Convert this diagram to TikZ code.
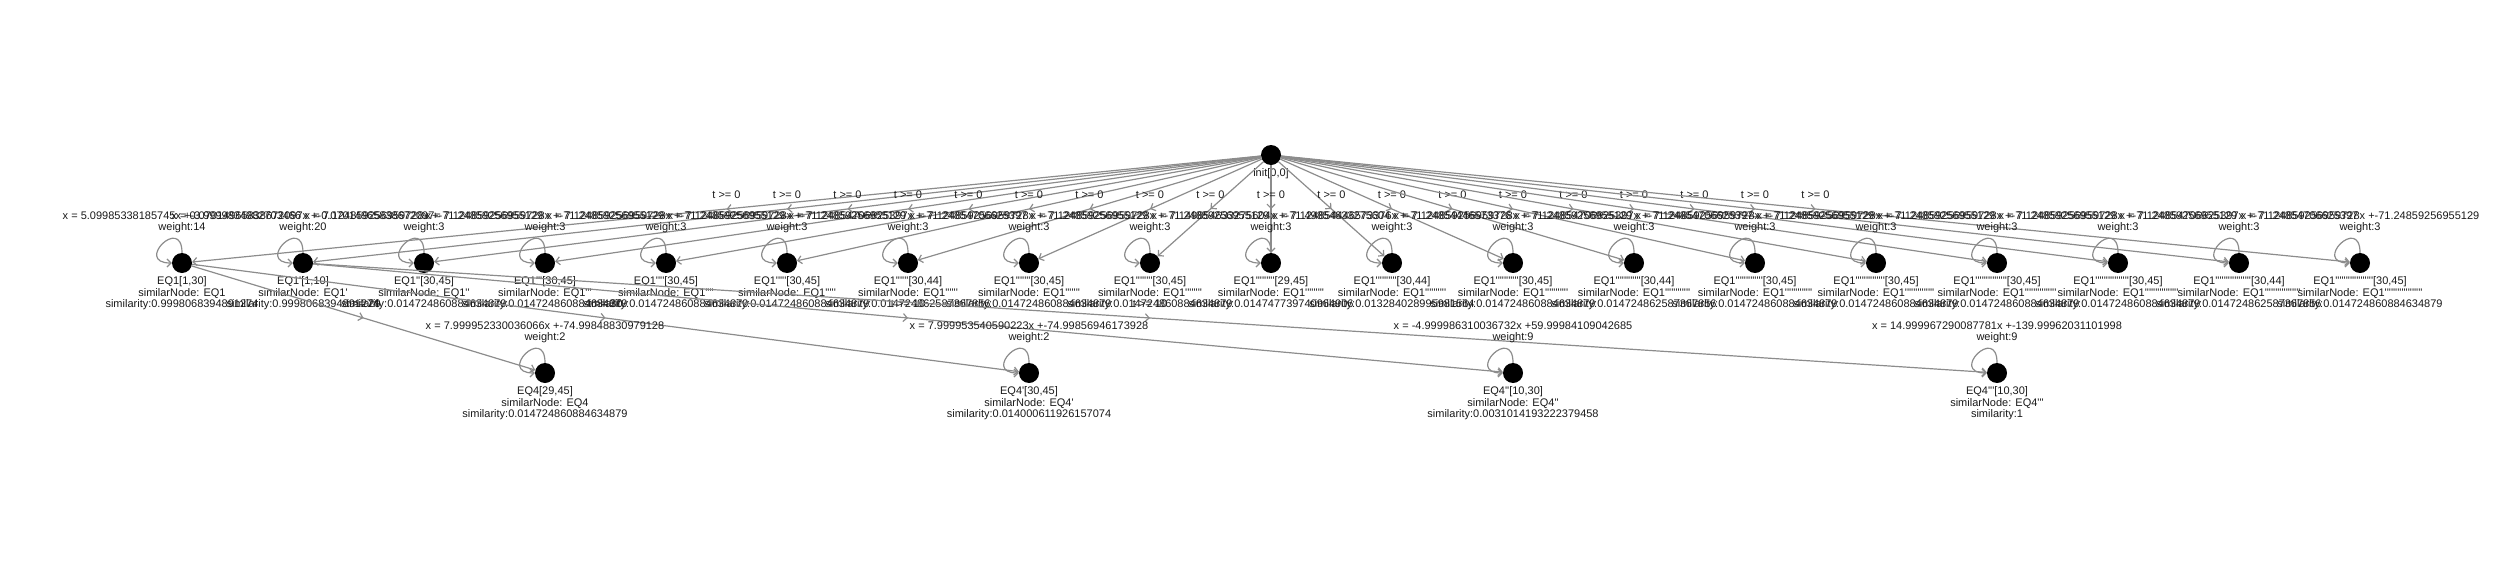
\documentclass[tikz,border=0pt]{standalone}
\usepackage{fontspec}
\newfontfamily\graphfont{Liberation Sans}
\colorlet{edgegray}{black!45}
\usetikzlibrary{positioning,arrows.meta,decorations.markings}
\tikzstyle{state}=[circle,fill=black,minimum size=20pt,inner sep=0pt]
\tikzstyle{info}=[align=center,inner sep=0pt,text=black!90,
  font=\graphfont\fontsize{11}{11.7}\selectfont]
\tikzstyle{trans}=[draw=edgegray,line width=1.2pt,
  -{Straight Barb[length=4pt,width=8pt]},postaction={decorate},
  decoration={markings,mark=at position .5 with
    {\arrow{Straight Barb[length=4pt,width=8pt]}}}]
\tikzstyle{selfloop}=[out=90,in=180,distance=38pt,draw=edgegray,
  line width=1.2pt,-{Straight Barb[length=4pt,width=8pt]}]
\tikzstyle{guard}=[info,yshift=14pt]
\tikzstyle{flow}=[info,pos=0,above=19pt]
\newcommand{\eqinfo}[3]{#1#2\\similarNode: #1\\similarity:#3}

\begin{document}
\begin{tikzpicture}[node distance=121pt, on grid, label distance=3pt]
  \useasboundingbox (0,0) rectangle (2500pt,-562pt);

  \node[state, label={[info]below:{init[0,0]}}] (root) at (1271pt,-155pt) {};

  \node[state, below=108pt of root, label={[info]below:{\eqinfo{EQ1'''''''''}{[29,45]}{0.014747739740964906}}}] (e9) {};
  \node[state, left=of e9, label={[info]below:{\eqinfo{EQ1''''''''}{[30,45]}{0.014724860884634879}}}] (e8) {};
  \node[state, left=of e8, label={[info]below:{\eqinfo{EQ1'''''''}{[30,45]}{0.014724860884634879}}}] (e7) {};
  \node[state, left=of e7, label={[info]below:{\eqinfo{EQ1''''''}{[30,44]}{0.014724862587367856}}}] (e6) {};
  \node[state, left=of e6, label={[info]below:{\eqinfo{EQ1'''''}{[30,45]}{0.014724860884634879}}}] (e5) {};
  \node[state, left=of e5, label={[info]below:{\eqinfo{EQ1''''}{[30,45]}{0.014724860884634879}}}] (e4) {};
  \node[state, left=of e4, label={[info]below:{\eqinfo{EQ1'''}{[30,45]}{0.014724860884634879}}}] (e3) {};
  \node[state, left=of e3, label={[info]below:{\eqinfo{EQ1''}{[30,45]}{0.014724860884634879}}}] (e2) {};
  \node[state, left=of e2, label={[info]below:{\eqinfo{EQ1'}{[1,10]}{0.9998068394891274}}}] (e1) {};
  \node[state, left=of e1, label={[info]below:{\eqinfo{EQ1}{[1,30]}{0.9998068394891274}}}] (e0) {};
  \node[state, right=of e9, label={[info]below:{\eqinfo{EQ1''''''''''}{[30,44]}{0.013284028995981564}}}] (e10) {};
  \node[state, right=of e10, label={[info]below:{\eqinfo{EQ1'''''''''''}{[30,45]}{0.014724860884634879}}}] (e11) {};
  \node[state, right=of e11, label={[info]below:{\eqinfo{EQ1''''''''''''}{[30,44]}{0.014724862587367856}}}] (e12) {};
  \node[state, right=of e12, label={[info]below:{\eqinfo{EQ1'''''''''''''}{[30,45]}{0.014724860884634879}}}] (e13) {};
  \node[state, right=of e13, label={[info]below:{\eqinfo{EQ1''''''''''''''}{[30,45]}{0.014724860884634879}}}] (e14) {};
  \node[state, right=of e14, label={[info]below:{\eqinfo{EQ1'''''''''''''''}{[30,45]}{0.014724860884634879}}}] (e15) {};
  \node[state, right=of e15, label={[info]below:{\eqinfo{EQ1''''''''''''''''}{[30,45]}{0.014724860884634879}}}] (e16) {};
  \node[state, right=of e16, label={[info]below:{\eqinfo{EQ1'''''''''''''''''}{[30,44]}{0.014724862587367856}}}] (e17) {};
  \node[state, right=of e17, label={[info]below:{\eqinfo{EQ1''''''''''''''''''}{[30,45]}{0.014724860884634879}}}] (e18) {};

  \node[state, below=110pt of e3, label={[info]below:{\eqinfo{EQ4}{[29,45]}{0.014724860884634879}}}] (f0) {};
  \node[state, below=110pt of e7, label={[info]below:{\eqinfo{EQ4'}{[30,45]}{0.014000611926157074}}}] (f1) {};
  \node[state, below=110pt of e11, label={[info]below:{\eqinfo{EQ4''}{[10,30]}{0.0031014193222379458}}}] (f2) {};
  \node[state, below=110pt of e15, label={[info]below:{\eqinfo{EQ4'''}{[10,30]}{1}}}] (f3) {};

  % init -> EQ1 variants
  \path (root) edge[trans] node[guard] {t >= 0} (e0)
               edge[trans] node[guard] {t >= 0} (e1)
               edge[trans] node[guard] {t >= 0} (e2)
               edge[trans] node[guard] {t >= 0} (e3)
               edge[trans] node[guard] {t >= 0} (e4)
               edge[trans] node[guard] {t >= 0} (e5)
               edge[trans] node[guard] {t >= 0} (e6)
               edge[trans] node[guard] {t >= 0} (e7)
               edge[trans] node[guard] {t >= 0} (e8)
               edge[trans] node[guard] {t >= 0} (e9)
               edge[trans] node[guard] {t >= 0} (e10)
               edge[trans] node[guard] {t >= 0} (e11)
               edge[trans] node[guard] {t >= 0} (e12)
               edge[trans] node[guard] {t >= 0} (e13)
               edge[trans] node[guard] {t >= 0} (e14)
               edge[trans] node[guard] {t >= 0} (e15)
               edge[trans] node[guard] {t >= 0} (e16)
               edge[trans] node[guard] {t >= 0} (e17)
               edge[trans] node[guard] {t >= 0} (e18);

  % EQ1 -> EQ4 variants
  \path (e0) edge[trans] node[guard] {t >= 29} (f0)
             edge[trans] node[guard] {t >= 30} (f1);
  \path (e1) edge[trans] node[guard] {t >= 10} (f2)
             edge[trans] node[guard] {t >= 10} (f3);

  % flows
  \path (e0) edge[selfloop] node[flow] {x = 5.09985338185745x +-3.9999834982703466\\weight:14} (e0);
  \path (e1) edge[selfloop] node[flow] {x = 0.07014965838672097x +-0.07014965838672097\\weight:20} (e1);
  \path (e2) edge[selfloop] node[flow] {x = 7.124859256959728x +-71.24859256955129\\weight:3} (e2);
  \path (e3) edge[selfloop] node[flow] {x = 7.124859256959728x +-71.24859256955129\\weight:3} (e3);
  \path (e4) edge[selfloop] node[flow] {x = 7.124859256959728x +-71.24859256955129\\weight:3} (e4);
  \path (e5) edge[selfloop] node[flow] {x = 7.124859256959728x +-71.24859256955129\\weight:3} (e5);
  \path (e6) edge[selfloop] node[flow] {x = 7.124854706625397x +-71.24854706625397\\weight:3} (e6);
  \path (e7) edge[selfloop] node[flow] {x = 7.124859256959728x +-71.24859256955129\\weight:3} (e7);
  \path (e8) edge[selfloop] node[flow] {x = 7.124859256959728x +-71.24859256955129\\weight:3} (e8);
  \path (e9) edge[selfloop] node[flow] {x = 7.149854633275604x +-71.49854633275604\\weight:3} (e9);
  \path (e10) edge[selfloop] node[flow] {x = 7.124854446573376x +-71.24854446573376\\weight:3} (e10);
  \path (e11) edge[selfloop] node[flow] {x = 7.124859256959728x +-71.24859256955129\\weight:3} (e11);
  \path (e12) edge[selfloop] node[flow] {x = 7.124854706625397x +-71.24854706625397\\weight:3} (e12);
  \path (e13) edge[selfloop] node[flow] {x = 7.124859256959728x +-71.24859256955129\\weight:3} (e13);
  \path (e14) edge[selfloop] node[flow] {x = 7.124859256959728x +-71.24859256955129\\weight:3} (e14);
  \path (e15) edge[selfloop] node[flow] {x = 7.124859256959728x +-71.24859256955129\\weight:3} (e15);
  \path (e16) edge[selfloop] node[flow] {x = 7.124859256959728x +-71.24859256955129\\weight:3} (e16);
  \path (e17) edge[selfloop] node[flow] {x = 7.124854706625397x +-71.24854706625397\\weight:3} (e17);
  \path (e18) edge[selfloop] node[flow] {x = 7.124859256959728x +-71.24859256955129\\weight:3} (e18);
  \path (f0) edge[selfloop] node[flow] {x = 7.999952330036066x +-74.99848830979128\\weight:2} (f0);
  \path (f1) edge[selfloop] node[flow] {x = 7.999953540590223x +-74.99856946173928\\weight:2} (f1);
  \path (f2) edge[selfloop] node[flow] {x = -4.999986310036732x +59.99984109042685\\weight:9} (f2);
  \path (f3) edge[selfloop] node[flow] {x = 14.999967290087781x +-139.99962031101998\\weight:9} (f3);
\end{tikzpicture}
\end{document}
